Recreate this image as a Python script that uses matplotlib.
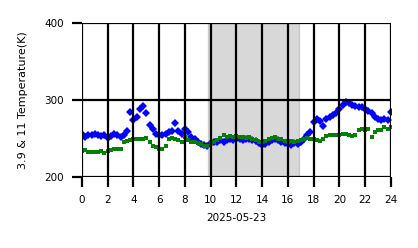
import matplotlib
matplotlib.use('Agg')
import matplotlib.pyplot as plt
import numpy as np

# hours of the day, every 15 minutes
hours = np.arange(0, 24.01, 0.25)

# 3.9 um brightness temperature (K)
t39 = [256, 252, 255, 254, 256, 254, 253, 255, 251, 253, 256, 254,
       252, 255, 260, 285, 274, 278, 288, 292, 283, 268, 262, 256,
       254, 255, 256, 258, 260, 270, 260, 256, 262, 258, 252, 250,
       246, 243, 242, 240, 244, 246, 245, 248, 246, 248, 250, 248,
       249, 250, 248, 249, 250, 248, 247, 244, 242, 243, 245, 248,
       250, 248, 246, 244, 243, 242, 244, 243, 246, 250, 255, 258,
       272, 276, 273, 266, 275, 278, 280, 283, 288, 293, 297, 296,
       293, 292, 291, 291, 289, 286, 283, 278, 276, 274, 275, 274,
       285]

# 11 um brightness temperature (K)
t11 = [234, 235, 232, 233, 232, 233, 234, 231, 234, 235, 236, 237,
       237, 245, 247, 248, 249, 249, 249, 250, 251, 246, 241, 239,
       237, 237, 241, 249, 251, 250, 248, 246, 252, 248, 246, 245,
       244, 243, 241, 241, 244, 246, 248, 251, 254, 252, 253, 252,
       253, 252, 252, 251, 252, 250, 248, 245, 246, 247, 249, 251,
       252, 250, 249, 247, 246, 247, 246, 247, 248, 250, 251, 249,
       250, 248, 247, 250, 253, 254, 254, 255, 255, 256, 256, 255,
       253, 254, 261, 262, 261, 262, 252, 258, 261, 261, 265, 262,
       265]

night_start = 9.8
night_end = 16.9

fig = plt.figure(figsize=(4.18, 2.48), dpi=100)
ax = fig.add_axes([0.196, 0.286, 0.739, 0.621])

ax.axvspan(night_start, night_end, color='gray', alpha=0.3, zorder=0)
ax.plot(hours, t39, 'D', color='blue', markersize=3.8, markeredgewidth=0, zorder=2)
ax.plot(hours, t11, 's', color='green', markersize=3.1, markeredgewidth=0, zorder=2)

ax.set_xlim(0, 24)
ax.set_ylim(200, 400)
ax.set_xticks(range(0, 25, 2))
ax.set_yticks([200, 300, 400])
ax.grid(True, color='black', linewidth=1.6)
ax.set_axisbelow(False)
for s in ax.spines.values():
    s.set_visible(False)
ax.tick_params(axis='both', length=7, width=1.6, color='black', labelsize=7.5, pad=6)

ax.set_xlabel('2025-05-23', fontsize=7.5, labelpad=6)
ax.set_ylabel('3.9 & 11 Temperature(K)', fontsize=8, labelpad=12)

fig.savefig('out.png', dpi=100)
